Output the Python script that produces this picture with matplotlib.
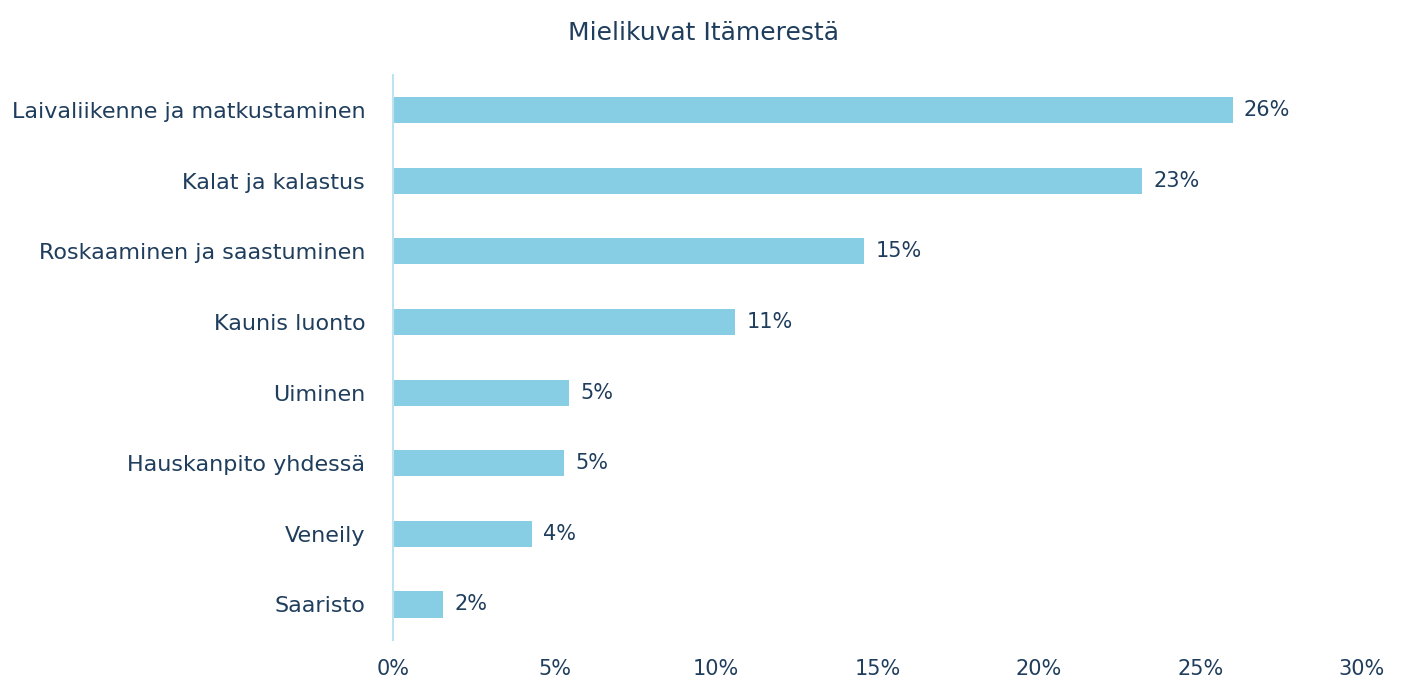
import matplotlib.pyplot as plt

categories = ["Laivaliikenne ja matkustaminen", "Kalat ja kalastus", "Roskaaminen ja saastuminen",
              "Kaunis luonto", "Uiminen", "Hauskanpito yhdessä", "Veneily", "Saaristo"]
values = [26.0, 23.2, 14.6, 10.6, 5.45, 5.3, 4.3, 1.55]
x_ticks = [0, 5, 10, 15, 20, 25, 30]

TEXT = "#1F3D5C"
BAR = "#87CEE4"

plt.rcParams['font.family'] = ['DejaVu Sans']
fig = plt.figure(figsize=(14.06, 7.0), dpi=100)
ax = fig.add_axes([0.2795, 0.086, 0.689, 0.807])

y = list(range(len(categories)))[::-1]
ax.barh(y, values, height=0.37, color=BAR)
for yi, v in zip(y, values):
    ax.text(v + 0.35, yi, f"{v:.0f}%", va="center", ha="left", fontsize=15, color=TEXT)

ax.set_xlim(0, 30)
ax.set_ylim(-0.5, len(categories) - 0.5)
ax.set_yticks(y)
ax.set_yticklabels(categories, fontsize=16, color=TEXT)
ax.set_xticks(x_ticks)
ax.set_xticklabels([f"{t}%" for t in x_ticks], fontsize=15, color=TEXT)
ax.tick_params(axis="both", length=0)
ax.tick_params(axis="y", pad=20)
ax.tick_params(axis="x", pad=14)
for s in ["top", "right", "bottom"]:
    ax.spines[s].set_visible(False)
ax.spines["left"].set_color("#BDE3F0")
ax.spines["left"].set_linewidth(1.5)

fig.text(0.5, 0.953, "Mielikuvat Itämerestä", ha="center", va="center", fontsize=18, color=TEXT)
fig.savefig("out.png", dpi=100)
